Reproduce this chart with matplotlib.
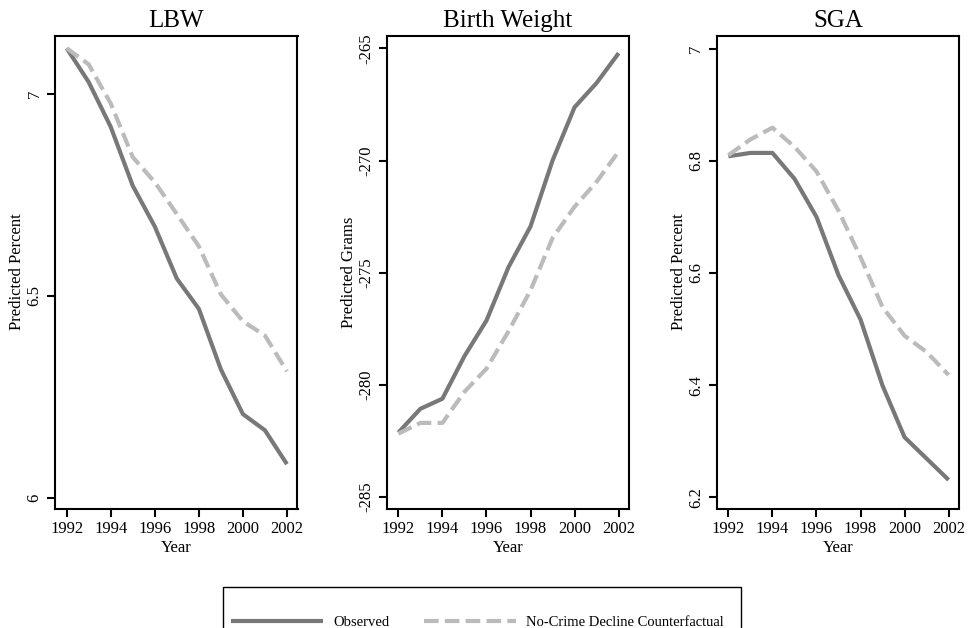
import matplotlib.pyplot as plt
from matplotlib.patches import Rectangle

years = list(range(1992, 2003))

lbw_observed = [7.114, 7.030, 6.919, 6.773, 6.672, 6.543, 6.468, 6.318, 6.207, 6.167, 6.083]
lbw_counter = [7.114, 7.074, 6.977, 6.844, 6.782, 6.703, 6.623, 6.504, 6.437, 6.402, 6.313]

bw_observed = [-282.14, -281.08, -280.63, -278.73, -277.14, -274.76, -272.94, -270.0, -267.62, -266.54, -265.21]
bw_counter = [-282.19, -281.71, -281.71, -280.32, -279.29, -277.62, -275.79, -273.46, -272.06, -270.95, -269.6]

sga_observed = [6.808, 6.814, 6.814, 6.768, 6.700, 6.596, 6.517, 6.399, 6.307, 6.269, 6.231]
sga_counter = [6.810, 6.838, 6.859, 6.825, 6.781, 6.711, 6.628, 6.539, 6.488, 6.459, 6.418]

titles = ['LBW', 'Birth Weight', 'SGA']
ylabels = ['Predicted Percent', 'Predicted Grams', 'Predicted Percent']
yticks = [[6, 6.5, 7], [-285, -280, -275, -270, -265], [6.2, 6.4, 6.6, 6.8, 7]]
yticklabels = [['6', '6.5', '7'], ['-285', '-280', '-275', '-270', '-265'], ['6.2', '6.4', '6.6', '6.8', '7']]
ylims = [(5.973, 7.145), (-285.53, -264.43), (6.180, 7.023)]
xticks = [1992, 1994, 1996, 1998, 2000, 2002]

obs_color = '#787878'
cf_color = '#bbbbbb'

plt.rcParams['font.family'] = ['Liberation Serif', 'DejaVu Serif']

fig = plt.figure(figsize=(9.69, 6.28), dpi=100)

W, H = 969.0, 628.0
lefts = [55, 386.7, 716.7]
top_px, bottom_px = 35.7, 508.5
series = [(lbw_observed, lbw_counter), (bw_observed, bw_counter), (sga_observed, sga_counter)]

lines = None
for i in range(3):
    ax = fig.add_axes([lefts[i] / W, 1 - bottom_px / H, 242.5 / W, (bottom_px - top_px) / H])
    obs, cf = series[i]
    l1, = ax.plot(years, obs, color=obs_color, linewidth=3.0, solid_capstyle='butt', label='Observed')
    l2, = ax.plot(years, cf, color=cf_color, linewidth=3.0, dashes=(3.5, 1.5), dash_capstyle='butt',
                  label='No-Crime Decline Counterfactual')
    lines = [l1, l2]
    ax.set_xlim(1991.47, 2002.48)
    ax.set_ylim(*ylims[i])
    ax.set_xticks(xticks)
    ax.set_yticks(yticks[i])
    ax.set_yticklabels(yticklabels[i], rotation=90, va='center')
    ax.tick_params(axis='both', direction='out', length=6, width=1.5, labelsize=12, pad=3)
    for sp in ax.spines.values():
        sp.set_linewidth(1.5)
    ax.set_title(titles[i], fontsize=18, pad=6)
    ax.set_xlabel('Year', fontsize=12, labelpad=2)
    ax.set_ylabel(ylabels[i], fontsize=12, labelpad=1)

fig.patches.append(Rectangle((223 / W, 1 - 645 / H), (741 - 223) / W, (645 - 587) / H,
                             transform=fig.transFigure, fill=False, edgecolor='black', linewidth=1.0))

fig.legend(lines, ['Observed', 'No-Crime Decline Counterfactual'], loc='center left',
           bbox_to_anchor=(231 / W, 1 - 622 / H), ncol=2, frameon=False, fontsize=10.5,
           handlelength=6.3, handletextpad=0.7, columnspacing=2.4, borderpad=0, borderaxespad=0)

fig.savefig('out.png', dpi=100)
